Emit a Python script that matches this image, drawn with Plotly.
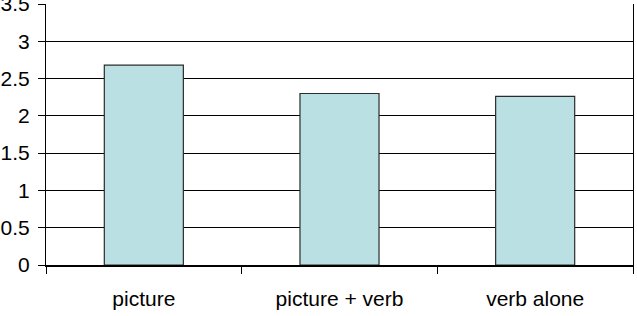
import plotly.graph_objects as go

categories = ["picture", "picture + verb", "verb alone"]
values = [2.68, 2.30, 2.26]
y_tick_vals = [0, 0.5, 1, 1.5, 2, 2.5, 3, 3.5]
y_tick_text = ["0", "0.5", "1", "1.5", "2", "2.5", "3", "3.5"]

fig = go.Figure()
fig.add_trace(go.Bar(
    x=categories, y=values,
    marker=dict(color="#BBE0E3", line=dict(color="#2b2b2b", width=1.2)),
    width=0.404,
))

font = dict(family="Liberation Sans, Arial, sans-serif", size=21, color="#000000")

fig.update_layout(
    width=637, height=316,
    margin=dict(l=46, r=4, t=4, b=51),
    plot_bgcolor="white", paper_bgcolor="white",
    showlegend=False,
    font=font,
    xaxis=dict(
        range=[-0.5, 2.5],
        automargin=False,
        showline=True, linecolor="black", linewidth=2,
        ticks="outside", tickson="boundaries", ticklen=7, tickcolor="black", tickwidth=1,
        showgrid=False,
        tickfont=font,
        ticklabelstandoff=14,
    ),
    yaxis=dict(
        range=[0, 3.5],
        automargin=False,
        tickvals=y_tick_vals, ticktext=y_tick_text,
        ticklabeloverflow="allow",
        showline=True, linecolor="black", linewidth=1, mirror=True,
        ticks="outside", ticklen=7, tickcolor="black", tickwidth=1,
        showgrid=True, gridcolor="black", gridwidth=1,
        zeroline=False,
        tickfont=font,
        ticklabelstandoff=4,
    ),
)

fig.write_html("out.html")
